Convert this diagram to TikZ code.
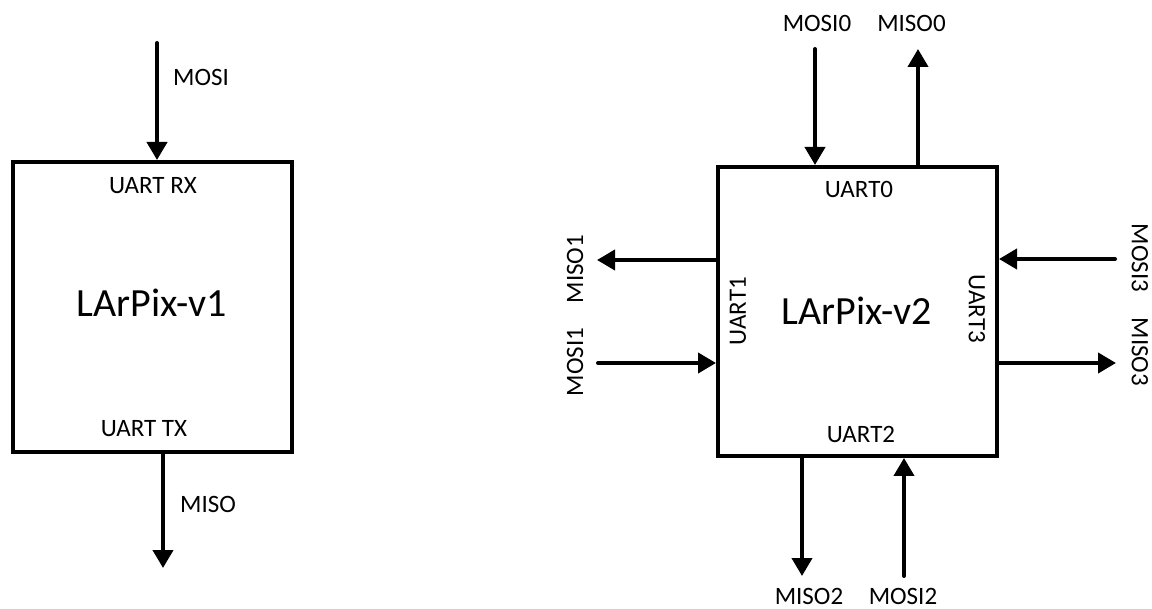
\documentclass[tikz,border=0pt]{standalone}
\usepackage{fontspec}
\setmainfont{Carlito}
\usetikzlibrary{arrows.meta}
\tikzset{
  chip/.style={draw, line width=4pt, rectangle, inner sep=0pt, minimum width=279pt, minimum height=290pt},
  sig/.style={line width=4pt, line cap=round, -{Triangle[width=20pt,length=18pt]}},
  lbl/.style={font=\fontsize{25}{30}\selectfont, inner sep=0pt},
  ttl/.style={font=\fontsize{40}{48}\selectfont, inner sep=0pt},
}
\begin{document}
\begin{tikzpicture}[x=1pt,y=-1pt]
\useasboundingbox (0,0) rectangle (1152,609);
% ---------- LArPix-v1 ----------
\node[chip] (v1) at (152.5,307) {};
\node[ttl, anchor=base] (t1) at (152,317) {LArPix-v1};
\node[lbl, anchor=base] (rx) at (153,194) {UART RX};
\node[lbl, anchor=base] (tx) at (144,437) {UART TX};
\coordinate (mosiS) at (157,43);
\coordinate (misoE) at (163,568);
\draw[sig] (mosiS) -- (mosiS |- v1.north);
\draw[sig] (misoE |- v1.south) -- (misoE);
\node[lbl, anchor=base west] (mosiL) at (173,86) {MOSI};
\node[lbl, anchor=base west] (misoL) at (180,512) {MISO};
% ---------- LArPix-v2 ----------
\node[chip, minimum height=289pt] (v2) at (857.5,311.5) {};
\node[ttl, anchor=base] (t2) at (857,325) {LArPix-v2};
\node[lbl, anchor=base] (u0) at (859,198) {UART0};
\node[lbl, anchor=base] (u2) at (861,443) {UART2};
\node[lbl, rotate=90] (u1) at (738,311) {UART1};
\node[lbl, rotate=-90] (u3) at (977,309) {UART3};
% top
\coordinate (mosi0S) at (815,49);
\coordinate (miso0E) at (918,49);
\draw[sig] (mosi0S) -- (mosi0S |- v2.north);
\draw[sig] (miso0E |- v2.north) -- (miso0E);
\node[lbl, anchor=base] (mosi0L) at (817,32) {MOSI0};
\node[lbl, anchor=base] (miso0L) at (911.5,32) {MISO0};
% left
\coordinate (miso1E) at (597,260);
\coordinate (mosi1S) at (598,363);
\draw[sig] (miso1E -| v2.west) -- (miso1E);
\draw[sig] (mosi1S) -- (mosi1S -| v2.west);
\node[lbl, rotate=90] (miso1L) at (575,269) {MISO1};
\node[lbl, rotate=90] (mosi1L) at (575,362) {MOSI1};
% right
\coordinate (mosi3S) at (1115,259);
\coordinate (miso3E) at (1116,363);
\draw[sig] (mosi3S) -- (mosi3S -| v2.east);
\draw[sig] (miso3E -| v2.east) -- (miso3E);
\node[lbl, rotate=-90] (mosi3L) at (1140,258) {MOSI3};
\node[lbl, rotate=-90] (miso3L) at (1140,352) {MISO3};
% bottom
\coordinate (miso2E) at (802,576);
\coordinate (mosi2S) at (904,576);
\draw[sig] (miso2E |- v2.south) -- (miso2E);
\draw[sig] (mosi2S) -- (mosi2S |- v2.south);
\node[lbl, anchor=base] (miso2L) at (809,604) {MISO2};
\node[lbl, anchor=base] (mosi2L) at (903,604) {MOSI2};
\end{tikzpicture}
\end{document}
